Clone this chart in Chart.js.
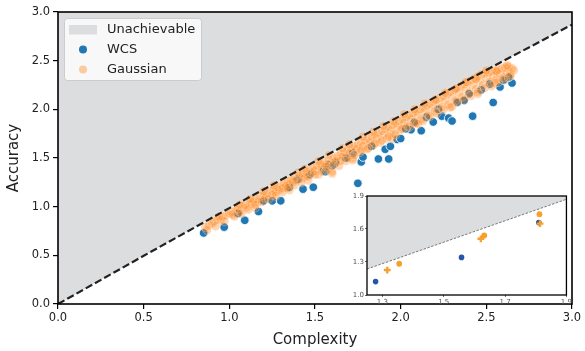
<!DOCTYPE html>
<html>
<head>
<meta charset="utf-8">
<script src="https://cdn.jsdelivr.net/npm/chart.js@4.4.0/dist/chart.umd.min.js"></script>
<style>
  body { margin: 0; background: #fff; }
  #wrap { position: relative; width: 585px; height: 351px; }
  canvas { position: absolute; }
</style>
</head>
<body>
<div id="wrap">
  <canvas id="main" width="585" height="351" style="left:0;top:0"></canvas>
  <canvas id="inset" width="228" height="120" style="left:345px;top:188px"></canvas>
</div>
<script>
// upper bound (dashed line)
const boundX = [0, 0.5, 1.0, 1.5, 2.0, 2.5, 3.0];
const boundY = [0, 0.495, 0.985, 1.465, 1.935, 2.405, 2.87];

// WCS points (blue)
const wcsX = [0.85, 0.97, 1.09, 1.17, 1.25, 1.30, 1.43, 1.49, 1.75, 1.77, 1.78, 1.87, 1.93, 1.91, 1.94,
  1.98, 2.00, 2.06, 2.12, 2.19, 2.24, 2.28, 2.30, 2.42, 2.54, 2.37, 2.58, 2.60, 2.65,
  1.05, 1.20, 1.35, 1.40, 1.47, 1.55, 1.62, 1.68, 1.72, 1.83, 2.03, 2.15, 2.22, 2.33, 2.40, 2.47,
  2.52, 2.63, 1.58, 2.08, 1.56, 1.60];
const wcsY = [0.73, 0.79, 0.86, 0.95, 1.06, 1.06, 1.18, 1.20, 1.24, 1.46, 1.51, 1.49, 1.49, 1.59, 1.62,
  1.69, 1.70, 1.79, 1.78, 1.87, 1.93, 1.91, 1.88, 1.93, 2.07, 2.09, 2.23, 2.30, 2.27,
  0.93, 1.06, 1.20, 1.28, 1.33, 1.38, 1.45, 1.50, 1.55, 1.62, 1.80, 1.92, 2.00, 2.07, 2.16, 2.20,
  2.26, 2.33, 1.43, 1.87, 1.36, 1.42];

// Gaussian points (orange)
const gaussX = [0.86, 0.88, 0.90, 0.91, 0.93, 0.95, 0.96, 0.98, 1.00, 1.01, 1.02, 1.04, 1.05, 1.06, 1.08,
  1.09, 1.10, 1.12, 1.13, 1.14, 1.16, 1.17, 1.18, 1.20, 1.21, 1.22, 1.24, 1.25, 1.26, 1.27,
  1.28, 1.29, 1.30, 1.31, 1.32, 1.33, 1.34, 1.35, 1.36, 1.37, 1.38, 1.39, 1.41, 1.42, 1.43,
  1.44, 1.45, 1.46, 1.47, 1.48, 1.49, 1.50, 1.51, 1.52, 1.53, 1.54, 1.55, 1.56, 1.57, 1.58,
  1.59, 1.60, 1.61, 1.62, 1.63, 1.64, 1.65, 1.66, 1.67, 1.68, 1.69, 1.70, 1.71, 1.72, 1.73,
  1.74, 1.75, 1.76, 1.77, 1.78, 1.79, 1.80, 1.81, 1.82, 1.83, 1.84, 1.85, 1.86, 1.87, 1.88,
  1.89, 1.90, 1.91, 1.92, 1.93, 1.94, 1.95, 1.96, 1.97, 1.98, 1.99, 2.00, 2.01, 2.02, 2.03,
  2.04, 2.05, 2.06, 2.07, 2.08, 2.09, 2.10, 2.11, 2.12, 2.13, 2.14, 2.15, 2.16, 2.17, 2.18,
  2.19, 2.20, 2.21, 2.22, 2.23, 2.24, 2.25, 2.26, 2.27, 2.28, 2.29, 2.30, 2.31, 2.32, 2.33,
  2.34, 2.35, 2.36, 2.37, 2.38, 2.39, 2.40, 2.41, 2.42, 2.43, 2.44, 2.45, 2.46, 2.47, 2.48,
  2.49, 2.50, 2.51, 2.52, 2.53, 2.54, 2.55, 2.56, 2.57, 2.58, 2.59, 2.60, 2.61, 2.62, 2.63,
  2.64, 2.65, 2.66,
  1.15, 1.35, 1.60, 1.72, 1.95, 2.10, 2.30, 2.45, 2.55,
  // apakšējā josla
  0.87, 0.92, 0.97, 1.03, 1.07, 1.11, 1.15, 1.19, 1.23, 1.27, 1.31, 1.34, 1.38, 1.42, 1.46,
  1.50, 1.54, 1.57, 1.61, 1.65, 1.69, 1.73, 1.77, 1.81, 1.85, 1.89, 1.93, 1.97, 2.01, 2.05,
  2.09, 2.13, 2.17, 2.21, 2.25, 2.29, 2.33, 2.37, 2.41, 2.45, 2.49, 2.53, 2.57, 2.61, 2.64,
  // tuvu līnijai
  1.12, 1.26, 1.44, 1.58, 1.70, 1.84, 1.96, 2.08, 2.20, 2.32, 2.44, 2.56, 2.62, 2.50, 2.38,
  2.26, 2.14, 2.02, 1.90, 1.78, 1.66, 1.52, 1.40, 1.20, 1.06, 0.94];
const gaussY = [0.79, 0.81, 0.83, 0.85, 0.87, 0.86, 0.90, 0.91, 0.93, 0.95, 0.92, 0.97, 0.98, 0.95, 1.01,
  1.02, 0.99, 1.05, 1.03, 1.07, 1.08, 1.05, 1.11, 1.12, 1.09, 1.14, 1.16, 1.12, 1.18, 1.15,
  1.20, 1.17, 1.22, 1.19, 1.24, 1.21, 1.26, 1.23, 1.28, 1.25, 1.30, 1.27, 1.32, 1.29, 1.34,
  1.31, 1.36, 1.27, 1.38, 1.35, 1.40, 1.37, 1.42, 1.33, 1.44, 1.41, 1.46, 1.43, 1.38, 1.48,
  1.45, 1.34, 1.50, 1.47, 1.52, 1.42, 1.54, 1.51, 1.56, 1.47, 1.58, 1.55, 1.60, 1.50, 1.62,
  1.59, 1.64, 1.56, 1.66, 1.62, 1.68, 1.59, 1.70, 1.66, 1.72, 1.63, 1.74, 1.70, 1.76, 1.66,
  1.78, 1.74, 1.80, 1.70, 1.82, 1.78, 1.84, 1.75, 1.86, 1.82, 1.88, 1.79, 1.90, 1.86, 1.92,
  1.83, 1.94, 1.90, 1.96, 1.86, 1.98, 1.94, 2.00, 1.90, 2.02, 1.98, 2.04, 1.94, 2.06, 2.01,
  2.08, 1.98, 2.10, 2.05, 2.12, 2.02, 2.14, 2.09, 2.16, 2.05, 2.18, 2.13, 2.20, 2.09, 2.22,
  2.17, 2.24, 2.13, 2.26, 2.21, 2.28, 2.17, 2.30, 2.25, 2.32, 2.21, 2.34, 2.29, 2.36, 2.25,
  2.37, 2.32, 2.38, 2.28, 2.39, 2.34, 2.40, 2.31, 2.41, 2.36, 2.42, 2.33, 2.43, 2.38, 2.44,
  2.36, 2.42, 2.40,
  0.99, 1.17, 1.36, 1.48, 1.70, 1.85, 2.03, 2.18, 2.27,
  0.76, 0.80, 0.85, 0.90, 0.93, 0.97, 1.02, 1.05, 1.08, 1.11, 1.15, 1.19, 1.22, 1.25, 1.31,
  1.33, 1.36, 1.41, 1.43, 1.47, 1.50, 1.53, 1.58, 1.60, 1.65, 1.68, 1.72, 1.74, 1.80, 1.82,
  1.86, 1.88, 1.93, 1.96, 2.00, 2.02, 2.08, 2.10, 2.14, 2.16, 2.22, 2.24, 2.28, 2.31, 2.34,
  1.08, 1.22, 1.39, 1.53, 1.64, 1.77, 1.88, 2.00, 2.10, 2.21, 2.31, 2.39, 2.45, 2.40, 2.28,
  2.17, 2.06, 1.95, 1.83, 1.72, 1.60, 1.47, 1.35, 1.16, 1.02, 0.90];

const axisTicks = [0, 0.5, 1.0, 1.5, 2.0, 2.5, 3.0];
const legendLabels = ['Unachievable', 'WCS', 'Gaussian'];

// inset
const insetBoundX = [1.25, 1.9];
const insetBoundY = [1.236, 1.87];
const insetWcsX = [1.278, 1.558, 1.81];
const insetWcsY = [1.122, 1.342, 1.658];
const insetCircX = [1.355, 1.632, 1.812];
const insetCircY = [1.284, 1.541, 1.734];
const insetPlusX = [1.316, 1.621, 1.814];
const insetPlusY = [1.227, 1.511, 1.649];
const insetXTicks = [1.3, 1.5, 1.7, 1.9];
const insetYTicks = [1.0, 1.3, 1.6, 1.9];

const punkti = (xs, ys) => xs.map((x, i) => ({ x: x, y: ys[i] }));

const pelekais = '#dcdddf';
const zils = '#1f77b4';
const oranzs = 'rgba(255,127,14,0.32)';
const fonts = '"DejaVu Sans", sans-serif';

// rāmis visapkārt grafikam
const ramis = {
    id: 'ramis',
    afterDraw(chart, args, opts) {
        const a = chart.chartArea, ctx = chart.ctx;
        ctx.save();
        ctx.strokeStyle = '#000';
        ctx.lineWidth = opts.width || 1.6;
        ctx.strokeRect(a.left, a.top, a.right - a.left, a.bottom - a.top);
        ctx.restore();
    }
};

// balts fons zīmēšanas laukumam (inset)
const baltsFons = {
    id: 'baltsFons',
    beforeDraw(chart) {
        const a = chart.chartArea, ctx = chart.ctx;
        ctx.save();
        ctx.fillStyle = '#fff';
        ctx.fillRect(a.left, a.top, a.right - a.left, a.bottom - a.top);
        ctx.restore();
    }
};

// leģenda augšējā kreisajā stūrī
const legenda = {
    id: 'legenda',
    afterDraw(chart) {
        const ctx = chart.ctx;
        ctx.save();
        ctx.beginPath();
        ctx.roundRect(64.5, 18.5, 137, 62, 3);
        ctx.fillStyle = 'rgba(255,255,255,0.8)';
        ctx.fill();
        ctx.strokeStyle = '#cccccc';
        ctx.lineWidth = 1;
        ctx.stroke();

        ctx.fillStyle = pelekais;
        ctx.fillRect(69, 25, 28, 9.5);

        ctx.beginPath();
        ctx.arc(83, 49.5, 4, 0, Math.PI * 2);
        ctx.fillStyle = zils;
        ctx.fill();

        ctx.beginPath();
        ctx.arc(83, 69.5, 4, 0, Math.PI * 2);
        ctx.fillStyle = 'rgba(255,127,14,0.38)';
        ctx.fill();

        ctx.fillStyle = '#222';
        ctx.font = '13px ' + fonts;
        ctx.textBaseline = 'middle';
        ctx.fillText(legendLabels[0], 107, 29.5);
        ctx.fillText(legendLabels[1], 107, 49.5);
        ctx.fillText(legendLabels[2], 107, 69.5);
        ctx.restore();
    }
};

new Chart(document.getElementById('main'), {
    type: 'scatter',
    data: {
        datasets: [
            {
                type: 'line',
                data: punkti(boundX, boundY),
                borderColor: '#222',
                borderWidth: 2.2,
                borderDash: [7.4, 3.2],
                pointRadius: 0,
                fill: false,
                order: 0
            },
            {
                data: punkti(gaussX, gaussY),
                backgroundColor: oranzs,
                borderColor: 'rgba(255,255,255,0.32)',
                borderWidth: 0.8,
                pointRadius: 4.5,
                order: 1
            },
            {
                data: punkti(wcsX, wcsY),
                backgroundColor: zils,
                borderColor: '#fff',
                borderWidth: 0.8,
                pointRadius: 4.3,
                order: 2
            },
            {
                type: 'line',
                data: punkti(boundX, boundY),
                borderWidth: 0,
                pointRadius: 0,
                backgroundColor: pelekais,
                fill: 'end',
                order: 3
            }
        ]
    },
    options: {
        responsive: false,
        devicePixelRatio: 1,
        animation: false,
        layout: { padding: { left: 0, top: 12, right: 13, bottom: 0 } },
        plugins: { legend: { display: false }, tooltip: { enabled: false }, ramis: { width: 1.6 } },
        scales: {
            x: {
                type: 'linear', min: 0, max: 3,
                afterFit: s => { s.height = 47; },
                afterBuildTicks: s => { s.ticks = axisTicks.map(v => ({ value: v })); },
                ticks: { color: '#222', font: { family: fonts, size: 11.5 }, padding: 2, callback: v => v.toFixed(1) },
                grid: { drawOnChartArea: false, drawTicks: true, tickLength: 5, color: '#000', lineWidth: 1.2 },
                border: { display: false },
                title: { display: true, text: 'Complexity', color: '#222', font: { family: fonts, size: 15 }, padding: { top: 0, bottom: 2 } }
            },
            y: {
                type: 'linear', min: 0, max: 3,
                afterFit: s => { s.width = 58; },
                afterBuildTicks: s => { s.ticks = axisTicks.map(v => ({ value: v })); },
                ticks: { color: '#222', font: { family: fonts, size: 11.5 }, padding: 3, callback: v => v.toFixed(1) },
                grid: { drawOnChartArea: false, drawTicks: true, tickLength: 5, color: '#000', lineWidth: 1.2 },
                border: { display: false },
                title: { display: true, text: 'Accuracy', color: '#222', font: { family: fonts, size: 15 }, padding: { top: 5, bottom: 0 } }
            }
        }
    },
    plugins: [ramis, legenda]
});

new Chart(document.getElementById('inset'), {
    type: 'scatter',
    data: {
        datasets: [
            {
                data: punkti(insetCircX, insetCircY),
                backgroundColor: '#f6a02d',
                borderColor: '#f6a02d',
                borderWidth: 0,
                pointRadius: 2.9,
                order: 0
            },
            {
                data: punkti(insetPlusX, insetPlusY),
                pointStyle: 'cross',
                borderColor: '#f6a02d',
                borderWidth: 2.4,
                pointRadius: 3.4,
                order: 1
            },
            {
                data: punkti(insetWcsX, insetWcsY),
                backgroundColor: '#2458a6',
                borderColor: '#2458a6',
                borderWidth: 0,
                pointRadius: 2.8,
                order: 2
            },
            {
                type: 'line',
                data: punkti(insetBoundX, insetBoundY),
                borderColor: '#777',
                borderWidth: 1,
                borderDash: [2.5, 1.5],
                pointRadius: 0,
                backgroundColor: pelekais,
                fill: 'end',
                order: 3
            }
        ]
    },
    options: {
        responsive: false,
        devicePixelRatio: 1,
        animation: false,
        layout: { padding: { left: 0, top: 8, right: 6, bottom: 0 } },
        plugins: { legend: { display: false }, tooltip: { enabled: false }, ramis: { width: 1.3 } },
        scales: {
            x: {
                type: 'linear', min: 1.25, max: 1.9,
                afterFit: s => { s.height = 13; },
                afterBuildTicks: s => { s.ticks = insetXTicks.map(v => ({ value: v })); },
                ticks: { color: '#555', font: { family: fonts, size: 7 }, padding: 1, callback: v => v.toFixed(1) },
                grid: { drawOnChartArea: false, drawTicks: true, tickLength: 2, color: '#444', lineWidth: 0.8 },
                border: { display: false }
            },
            y: {
                type: 'linear', min: 1.0, max: 1.9,
                afterFit: s => { s.width = 22; },
                afterBuildTicks: s => { s.ticks = insetYTicks.map(v => ({ value: v })); },
                ticks: { color: '#555', font: { family: fonts, size: 7 }, padding: 1, callback: v => v.toFixed(1) },
                grid: { drawOnChartArea: false, drawTicks: true, tickLength: 2, color: '#444', lineWidth: 0.8 },
                border: { display: false }
            }
        }
    },
    plugins: [baltsFons, ramis]
});
</script>
</body>
</html>
